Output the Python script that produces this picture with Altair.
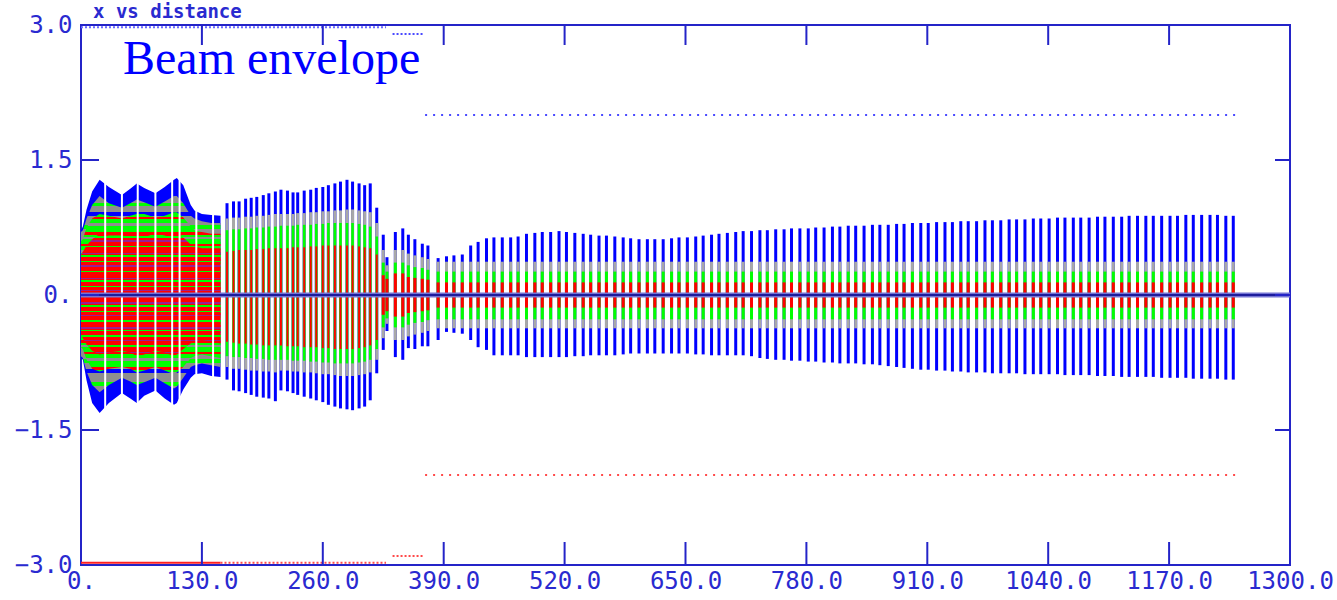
import altair as alt
import pandas as pd

# ---------------- axes ----------------
X_TICKS = [0, 130, 260, 390, 520, 650, 780, 910, 1040, 1170, 1300]
Y_TICKS = [-3.0, -1.5, 0.0, 1.5, 3.0]
INNER_X_TICKS = [130, 260, 390, 520, 650, 780, 910, 1040, 1170]
INNER_Y_TICKS = [-1.5, 0.0, 1.5]

TITLE = ["Beam envelope"]
TOP_TEXT = ["x vs distance"]

# ---------------- region 1: dense envelope (x, upper/lower limits) ----------------
R1_X = [0, 2, 6, 12, 20, 30, 44, 53, 60, 68, 80, 90, 100, 103, 110, 118, 122, 130, 140, 150]
R1_BLUE_HI = [0.72, 0.76, 0.95, 1.15, 1.28, 1.20, 1.11, 1.18, 1.24, 1.19, 1.13, 1.20, 1.28, 1.30, 1.22, 1.00, 0.94, 0.90, 0.89, 0.88]
R1_BLUE_LO = [-0.70, -0.72, -0.95, -1.20, -1.31, -1.20, -1.09, -1.15, -1.20, -1.12, -1.06, -1.15, -1.22, -1.20, -1.05, -0.92, -0.88, -0.87, -0.90, -0.91]
R1_GRAY_HI = [0.70, 0.72, 0.85, 1.00, 1.10, 1.02, 0.97, 1.02, 1.06, 1.03, 0.98, 1.04, 1.10, 1.10, 1.02, 0.88, 0.85, 0.82, 0.80, 0.80]
R1_GRAY_LO = [-0.68, -0.70, -0.85, -1.00, -1.08, -1.00, -0.92, -0.96, -1.00, -0.97, -0.92, -0.98, -1.04, -1.02, -0.92, -0.80, -0.78, -0.76, -0.78, -0.80]
R1_GREEN_HI = [0.60, 0.62, 0.75, 0.85, 0.90, 0.88, 0.85, 0.88, 0.90, 0.90, 0.86, 0.88, 0.92, 0.92, 0.86, 0.76, 0.72, 0.70, 0.68, 0.68]
R1_GREEN_LO = [-0.58, -0.60, -0.72, -0.82, -0.85, -0.82, -0.80, -0.82, -0.86, -0.84, -0.80, -0.84, -0.88, -0.86, -0.80, -0.70, -0.68, -0.66, -0.68, -0.70]
R1_RED_HI = [0.45, 0.48, 0.55, 0.62, 0.68, 0.66, 0.66, 0.68, 0.70, 0.68, 0.64, 0.66, 0.70, 0.70, 0.64, 0.56, 0.54, 0.52, 0.52, 0.52]
R1_RED_LO = [-0.45, -0.48, -0.55, -0.62, -0.66, -0.64, -0.62, -0.64, -0.68, -0.66, -0.62, -0.64, -0.68, -0.66, -0.60, -0.54, -0.52, -0.50, -0.52, -0.54]
R1_GAPS = [26, 44, 61, 80, 98, 106, 124, 142]

# ---------------- region 2: first lattice section ----------------
R2_X = [157, 164, 170, 177, 183, 189, 196, 202, 209, 215, 222, 228, 233, 240, 247, 253, 260, 266, 273, 279, 286, 292, 299, 305, 311, 318]
R2_BLUE_HI = [1.02, 1.04, 1.04, 1.07, 1.08, 1.09, 1.11, 1.13, 1.15, 1.17, 1.16, 1.14, 1.14, 1.16, 1.17, 1.19, 1.20, 1.22, 1.24, 1.26, 1.28, 1.26, 1.24, 1.22, 1.24, 0.97]
R2_BLUE_LO = [-0.94, -1.06, -1.07, -1.09, -1.11, -1.13, -1.14, -1.15, -1.18, -1.06, -1.07, -1.09, -1.11, -1.13, -1.15, -1.17, -1.19, -1.22, -1.24, -1.26, -1.27, -1.28, -1.26, -1.24, -1.17, -0.87]
R2_GRAY_HI = [0.85, 0.86, 0.86, 0.87, 0.87, 0.88, 0.88, 0.89, 0.90, 0.90, 0.90, 0.90, 0.91, 0.91, 0.92, 0.92, 0.93, 0.93, 0.94, 0.94, 0.95, 0.95, 0.94, 0.93, 0.92, 0.80]
R2_GRAY_LO = [-0.80, -0.82, -0.82, -0.83, -0.84, -0.84, -0.85, -0.85, -0.86, -0.84, -0.84, -0.85, -0.85, -0.86, -0.86, -0.87, -0.88, -0.88, -0.89, -0.90, -0.90, -0.90, -0.89, -0.88, -0.86, -0.72]
R2_GREEN_HI = [0.72, 0.73, 0.73, 0.74, 0.74, 0.75, 0.75, 0.76, 0.76, 0.77, 0.77, 0.77, 0.78, 0.78, 0.78, 0.79, 0.79, 0.80, 0.80, 0.80, 0.80, 0.80, 0.79, 0.78, 0.76, 0.65]
R2_GREEN_LO = [-0.68, -0.69, -0.69, -0.70, -0.70, -0.71, -0.71, -0.72, -0.72, -0.72, -0.72, -0.73, -0.73, -0.73, -0.74, -0.74, -0.75, -0.75, -0.76, -0.76, -0.76, -0.76, -0.75, -0.74, -0.72, -0.60]
R2_RED_HI = [0.48, 0.49, 0.50, 0.50, 0.50, 0.51, 0.51, 0.52, 0.52, 0.52, 0.52, 0.53, 0.53, 0.53, 0.54, 0.54, 0.55, 0.55, 0.55, 0.55, 0.55, 0.55, 0.54, 0.53, 0.52, 0.45]
R2_RED_LO = [-0.52, -0.53, -0.54, -0.54, -0.55, -0.55, -0.56, -0.56, -0.56, -0.56, -0.57, -0.57, -0.57, -0.58, -0.58, -0.58, -0.59, -0.59, -0.60, -0.60, -0.60, -0.60, -0.59, -0.58, -0.56, -0.50]

# ---------------- region 3: transition section ----------------
R3_X = [325, 329, 338, 346, 352, 359, 367, 373]
R3_BLUE_HI = [0.67, 0.42, 0.70, 0.74, 0.67, 0.62, 0.57, 0.55]
R3_BLUE_LO = [-0.61, -0.40, -0.69, -0.72, -0.59, -0.60, -0.57, -0.57]
R3_GRAY_HI = [0.50, 0.33, 0.50, 0.50, 0.46, 0.44, 0.42, 0.40]
R3_GRAY_LO = [-0.48, -0.32, -0.50, -0.50, -0.46, -0.44, -0.42, -0.40]
R3_GREEN_HI = [0.36, 0.26, 0.36, 0.36, 0.33, 0.31, 0.30, 0.28]
R3_GREEN_LO = [-0.36, -0.26, -0.36, -0.36, -0.33, -0.31, -0.30, -0.28]
R3_RED_HI = [0.22, 0.18, 0.24, 0.24, 0.20, 0.19, 0.18, 0.17]
R3_RED_LO = [-0.22, -0.18, -0.24, -0.24, -0.20, -0.19, -0.18, -0.17]

# ---------------- region 4: long lattice section ----------------
R4_X = [384, 393, 401, 410, 419, 427, 436, 444, 453, 462,
        470, 479, 488, 496, 505, 514, 522, 531, 540, 548,
        557, 565, 574, 583, 591, 600, 609, 617, 626, 635,
        643, 652, 661, 669, 678, 686, 695, 704, 712, 721,
        730, 738, 747, 756, 764, 773, 782, 790, 799, 808,
        816, 825, 833, 842, 851, 859, 868, 877, 885, 894,
        903, 911, 920, 929, 937, 946, 954, 963, 972, 980,
        989, 998, 1006, 1015, 1024, 1032, 1041, 1050, 1058, 1067,
        1075, 1084, 1093, 1101, 1110, 1119, 1127, 1136, 1145, 1153,
        1162, 1171, 1179, 1188, 1196, 1205, 1214, 1222, 1231, 1239]
R4_BLUE_HI = [0.41, 0.43, 0.44, 0.45, 0.55, 0.59, 0.63, 0.64, 0.64, 0.64,
              0.65, 0.68, 0.69, 0.70, 0.70, 0.71, 0.70, 0.69, 0.68, 0.67,
              0.66, 0.66, 0.65, 0.64, 0.63, 0.62, 0.62, 0.62, 0.62, 0.63,
              0.64, 0.64, 0.65, 0.66, 0.67, 0.68, 0.69, 0.70, 0.71, 0.71,
              0.72, 0.72, 0.73, 0.73, 0.74, 0.74, 0.74, 0.75, 0.75, 0.76,
              0.76, 0.77, 0.77, 0.77, 0.78, 0.78, 0.78, 0.79, 0.79, 0.80,
              0.80, 0.80, 0.81, 0.81, 0.81, 0.82, 0.82, 0.82, 0.83, 0.83,
              0.83, 0.84, 0.84, 0.84, 0.85, 0.85, 0.85, 0.86, 0.86, 0.86,
              0.86, 0.86, 0.87, 0.87, 0.87, 0.87, 0.88, 0.88, 0.88, 0.88,
              0.88, 0.88, 0.88, 0.89, 0.89, 0.89, 0.89, 0.89, 0.88, 0.88]
R4_BLUE_LO = [-0.50, -0.41, -0.42, -0.43, -0.50, -0.58, -0.61, -0.67, -0.67, -0.67,
              -0.67, -0.69, -0.69, -0.69, -0.69, -0.69, -0.69, -0.68, -0.68, -0.67,
              -0.67, -0.67, -0.67, -0.66, -0.65, -0.65, -0.65, -0.65, -0.65, -0.65,
              -0.65, -0.65, -0.66, -0.66, -0.67, -0.67, -0.67, -0.67, -0.67, -0.68,
              -0.70, -0.71, -0.72, -0.72, -0.73, -0.73, -0.74, -0.74, -0.75, -0.75,
              -0.76, -0.76, -0.76, -0.77, -0.77, -0.78, -0.79, -0.80, -0.81, -0.82,
              -0.83, -0.83, -0.84, -0.84, -0.85, -0.85, -0.86, -0.86, -0.86, -0.87,
              -0.87, -0.87, -0.87, -0.88, -0.88, -0.88, -0.88, -0.88, -0.89, -0.89,
              -0.89, -0.89, -0.90, -0.90, -0.90, -0.91, -0.91, -0.91, -0.91, -0.91,
              -0.92, -0.92, -0.92, -0.92, -0.93, -0.93, -0.93, -0.93, -0.94, -0.94]
R4_GRAY = [0.37, -0.37]
R4_GREEN = [0.26, -0.27]
R4_RED = [0.14, -0.14]

# ---------------- aperture / limit markers ----------------
LIM_X0 = [370, 370, 0, 335, 0, 150, 335]
LIM_X1 = [1242, 1242, 328, 368, 150, 328, 368]
LIM_Y = [2.0, -2.0, 2.975, 2.9, -2.975, -2.975, -2.9]
LIM_COLOR = ["#4a4aff", "#ff4a4a", "#6a6aff", "#4a4aff", "#ff2020", "#ff4a4a", "#ff4a4a"]
LIM_STYLE = ["dot", "dot", "fine", "fine", "solid", "fine", "fine"]

W, H = 1209, 540
AXIS_COLOR = "#2424c8"
LABEL_COLOR = "#2a2ad0"
MONO = "DejaVu Sans Mono"

XAXIS = alt.Axis(values=X_TICKS, title=None, grid=False, ticks=False, domain=False,
                 labelExpr="datum.value == 0 ? '0.' : format(datum.value, '.1f')",
                 labelFont=MONO, labelFontSize=24, labelColor=LABEL_COLOR,
                 labelPadding=4, labelBaseline="top", labelFlush=False, labelOverlap=False)
YAXIS = alt.Axis(values=Y_TICKS, title=None, grid=False, ticks=False, domain=False,
                 labelExpr="datum.value == 0 ? '0.' : format(datum.value, '.1f')",
                 labelFont=MONO, labelFontSize=24, labelColor=LABEL_COLOR,
                 labelPadding=9, labelFlush=False, labelOverlap=False)
XS = alt.Scale(domain=[0, 1300], nice=False, zero=False)
YS = alt.Scale(domain=[-3, 3], nice=False, zero=False)


def X(field="x"):
    return alt.X(f"{field}:Q", scale=XS, axis=XAXIS)


def Y(field):
    return alt.Y(f"{field}:Q", scale=YS, axis=YAXIS)


def speckle(pattern, n_repeat):
    """Fine horizontal stripe texture (a fill style) imitating the speckled particle cloud."""
    seq = pattern * n_repeat
    step = 1.0 / len(seq)
    stops = []
    for i, c in enumerate(seq):
        stops.append(alt.GradientStop(offset=round(i * step, 5), color=c))
        stops.append(alt.GradientStop(offset=round((i + 1) * step, 5), color=c))
    return alt.LinearGradient(gradient="linear", x1=0, y1=0, x2=0, y2=1, stops=stops)


R, G, P, GR = "#ff0000", "#00ff00", "#9a2090", "#8e8e8e"
RED_TEX = speckle([R, R, R, G, R, R, P, R, R, R, G, R, R, R, R, P, R, G], 5)
GREEN_TEX = speckle([G, G, R, G, G, GR, G, G, G, R, G, GR], 6)
GRAY_TEX = speckle([GR, GR, G, GR, GR, "#0000ff", GR, GR, GR, G, GR, GR], 5)

# ---- data tables ----
area1 = pd.DataFrame({
    "x": R1_X,
    "blue_hi": R1_BLUE_HI, "blue_lo": R1_BLUE_LO,
    "gray_hi": R1_GRAY_HI, "gray_lo": R1_GRAY_LO,
    "green_hi": R1_GREEN_HI, "green_lo": R1_GREEN_LO,
    "red_hi": R1_RED_HI, "red_lo": R1_RED_LO,
})
gaps = pd.DataFrame({"x": R1_GAPS, "hi": 1.4, "lo": -1.4})

WIDTHS = {"blue": 3.0, "gray": 3.0, "green": 2.6, "red": 1.9}
rows = []
for xs, bands, scale_w in [
    (R2_X, {"blue": (R2_BLUE_HI, R2_BLUE_LO), "gray": (R2_GRAY_HI, R2_GRAY_LO),
            "green": (R2_GREEN_HI, R2_GREEN_LO), "red": (R2_RED_HI, R2_RED_LO)}, True),
    (R3_X, {"blue": (R3_BLUE_HI, R3_BLUE_LO), "gray": (R3_GRAY_HI, R3_GRAY_LO),
            "green": (R3_GREEN_HI, R3_GREEN_LO), "red": (R3_RED_HI, R3_RED_LO)}, False),
    (R4_X, {"blue": (R4_BLUE_HI, R4_BLUE_LO),
            "gray": ([R4_GRAY[0]] * len(R4_X), [R4_GRAY[1]] * len(R4_X)),
            "green": ([R4_GREEN[0]] * len(R4_X), [R4_GREEN[1]] * len(R4_X)),
            "red": ([R4_RED[0]] * len(R4_X), [R4_RED[1]] * len(R4_X))}, False),
]:
    for band, (his, los) in bands.items():
        w = WIDTHS[band] if scale_w else 3.0
        for x, hi, lo in zip(xs, his, los):
            rows.append({"x": x, "band": band, "hi": hi, "lo": lo, "w": w})
bars = pd.DataFrame(rows)

limits = pd.DataFrame({"x0": LIM_X0, "x1": LIM_X1, "y": LIM_Y, "c": LIM_COLOR, "s": LIM_STYLE})

COL = {"blue": "#0000ff", "gray": "#a8a8a8", "green": "#00ff00", "red": "#ff0000"}

layers = []
# region 1 filled cloud
layers.append(alt.Chart(area1).mark_area(color="#0000ff").encode(x=X(), y=Y("blue_hi"), y2="blue_lo"))
layers.append(alt.Chart(area1).mark_area(color=GRAY_TEX).encode(x=X(), y=Y("gray_hi"), y2="gray_lo"))
layers.append(alt.Chart(area1).mark_area(color=GREEN_TEX).encode(x=X(), y=Y("green_hi"), y2="green_lo"))
layers.append(alt.Chart(area1).mark_area(color=RED_TEX).encode(x=X(), y=Y("red_hi"), y2="red_lo"))
layers.append(alt.Chart(gaps).mark_rule(color="white", strokeWidth=2).encode(
    x=X(), y=Y("hi"), y2="lo"))

# lattice sections (one vertical line per element)
for band in ["blue", "gray", "green", "red"]:
    layers.append(alt.Chart(bars[bars["band"] == band]).mark_rule(color=COL[band]).encode(
        x=X(), y=Y("hi"), y2="lo",
        strokeWidth=alt.StrokeWidth("w:Q", scale=None)))

layers.append(alt.Chart(limits).mark_rule(strokeWidth=2).encode(
    x=X("x0"), x2="x1", y=Y("y"),
    color=alt.Color("c:N", scale=None),
    strokeDash=alt.StrokeDash("s:N", scale=alt.Scale(domain=["dot", "fine", "solid"],
                                                     range=[[2, 6], [2, 2], [1, 0]]), legend=None)))

# centre line (y = 0)
zero = pd.DataFrame({"y": [0.0]})
layers.append(alt.Chart(zero).mark_rule(color="#7474d4", strokeWidth=5).encode(
    x=alt.value(0), x2=alt.value(W), y=Y("y")))
layers.append(alt.Chart(zero).mark_rule(color="#1c1c9c", strokeWidth=2).encode(
    x=alt.value(0), x2=alt.value(W), y=Y("y")))

# inward ticks
xt = pd.DataFrame({"x": INNER_X_TICKS})
yt = pd.DataFrame({"y": INNER_Y_TICKS})
layers.append(alt.Chart(xt).mark_rule(color=AXIS_COLOR, strokeWidth=2).encode(
    x=X(), y=alt.value(0), y2=alt.value(20)))
layers.append(alt.Chart(xt).mark_rule(color=AXIS_COLOR, strokeWidth=2).encode(
    x=X(), y=alt.value(H), y2=alt.value(H - 23)))
layers.append(alt.Chart(yt).mark_rule(color=AXIS_COLOR, strokeWidth=2).encode(
    y=Y("y"), x=alt.value(0), x2=alt.value(18)))
layers.append(alt.Chart(yt).mark_rule(color=AXIS_COLOR, strokeWidth=2).encode(
    y=Y("y"), x=alt.value(W), x2=alt.value(W - 15)))

# texts
layers.append(alt.Chart(pd.DataFrame({"t": TITLE})).mark_text(
    font="Liberation Serif", fontSize=48, color="#0000ff", align="left", baseline="alphabetic").encode(
    x=alt.value(42), y=alt.value(49), text="t:N"))
layers.append(alt.Chart(pd.DataFrame({"t": TOP_TEXT})).mark_text(
    font=MONO, fontSize=19, fontWeight="bold", color=LABEL_COLOR, align="left", baseline="alphabetic").encode(
    x=alt.value(12), y=alt.value(-7), text="t:N"))

chart = alt.layer(*layers).properties(
    width=W, height=H,
    padding={"left": 81, "top": 25, "right": 47, "bottom": 35},
    autosize=alt.AutoSizeParams(type="none"),
    background="white",
).configure_view(stroke=AXIS_COLOR, strokeWidth=2)

chart.save("out.html", embed_options={"renderer": "svg", "actions": False})
